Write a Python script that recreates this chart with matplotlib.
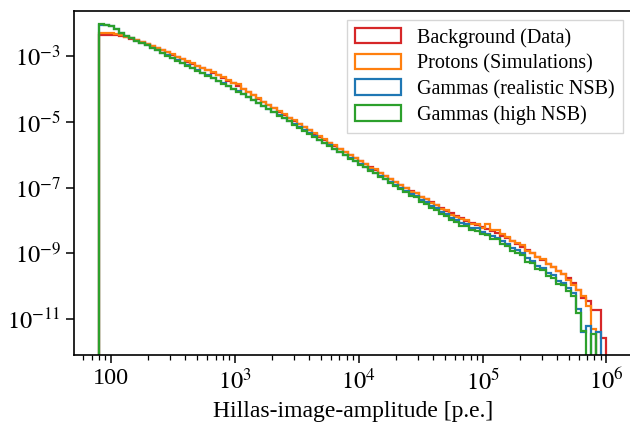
import numpy as np
import matplotlib
matplotlib.use("Agg")
import matplotlib.pyplot as plt
from matplotlib.patches import Patch

plt.rcParams['font.family'] = ['Liberation Serif', 'DejaVu Serif']
plt.rcParams['mathtext.fontset'] = 'stix'

# ---- data (log10 of normalised counts per bin; None = empty bin) ----
bin_edges = np.geomspace(80, 1e6, 101)

labels = ["Background (Data)", "Protons (Simulations)",
          "Gammas (realistic NSB)", "Gammas (high NSB)"]
colors = ["#d62728", "#ff7f0e", "#1f77b4", "#2ca02c"]

background_log10 = [
    -2.36, -2.36, -2.35, -2.36, -2.39, -2.43, -2.47, -2.52, -2.58, -2.64,
    -2.70, -2.76, -2.82, -2.89, -2.96, -3.03, -3.10, -3.17, -3.23, -3.30,
    -3.37, -3.44, -3.51, -3.59, -3.67, -3.75, -3.83, -3.91, -4.00, -4.10,
    -4.20, -4.30, -4.40, -4.50, -4.59, -4.69, -4.79, -4.88, -4.98, -5.07,
    -5.17, -5.26, -5.36, -5.45, -5.55, -5.64, -5.74, -5.83, -5.93, -6.02,
    -6.11, -6.20, -6.29, -6.38, -6.47, -6.57, -6.65, -6.75, -6.83, -6.93,
    -7.01, -7.10, -7.18, -7.28, -7.35, -7.44, -7.53, -7.61, -7.70, -7.78,
    -7.87, -7.94, -8.01, -8.08, -8.15, -8.21, -8.27, -8.33, -8.39, -8.46,
    -8.54, -8.63, -8.71, -8.80, -8.90, -9.00, -9.10, -9.20, -9.31, -9.42,
    -9.53, -9.64, -9.76, -9.90, -10.10, -10.36, -10.45, -10.72, -10.72, -11.57,
]

protons_log10 = [
    -2.31, -2.31, -2.31, -2.33, -2.37, -2.41, -2.46, -2.51, -2.57, -2.63,
    -2.69, -2.75, -2.81, -2.88, -2.95, -3.02, -3.09, -3.15, -3.22, -3.29,
    -3.35, -3.42, -3.50, -3.57, -3.65, -3.73, -3.81, -3.86, -3.99, -4.09,
    -4.19, -4.29, -4.39, -4.49, -4.58, -4.68, -4.77, -4.87, -4.96, -5.06,
    -5.15, -5.25, -5.34, -5.44, -5.53, -5.63, -5.72, -5.82, -5.91, -6.01,
    -6.09, -6.19, -6.27, -6.39, -6.45, -6.57, -6.64, -6.74, -6.82, -6.93,
    -7.00, -7.12, -7.16, -7.30, -7.34, -7.46, -7.52, -7.64, -7.68, -7.83,
    -7.88, -7.97, -8.00, -8.10, -8.12, -8.22, -8.10, -8.28, -8.30, -8.42,
    -8.50, -8.62, -8.68, -8.74, -8.92, -8.98, -9.12, -9.18, -9.32, -9.40,
    -9.55, -9.62, -9.80, -9.95, -10.10, -10.30, -10.60, -11.30, None, None,
]

gammas_realistic_log10 = [
    -2.05, -2.06, -2.10, -2.19, -2.30, -2.38, -2.45, -2.53, -2.60, -2.68,
    -2.75, -2.83, -2.90, -2.98, -3.06, -3.13, -3.21, -3.28, -3.36, -3.44,
    -3.51, -3.59, -3.67, -3.75, -3.83, -3.91, -3.99, -4.07, -4.15, -4.24,
    -4.33, -4.42, -4.51, -4.61, -4.70, -4.79, -4.89, -4.98, -5.07, -5.17,
    -5.26, -5.35, -5.44, -5.54, -5.63, -5.72, -5.82, -5.91, -6.00, -6.10,
    -6.18, -6.28, -6.37, -6.46, -6.55, -6.65, -6.73, -6.84, -6.91, -7.02,
    -7.10, -7.20, -7.27, -7.39, -7.45, -7.57, -7.63, -7.75, -7.80, -7.94,
    -7.99, -8.08, -8.12, -8.22, -8.24, -8.36, -8.40, -8.47, -8.52, -8.63,
    -8.72, -8.84, -8.90, -8.99, -9.15, -9.22, -9.38, -9.45, -9.60, -9.66,
    -9.84, -9.90, -10.05, -10.20, -10.70, -11.40, -11.20, None, -11.40, None,
]

gammas_high_log10 = [
    -2.04, -2.05, -2.09, -2.18, -2.30, -2.38, -2.45, -2.53, -2.61, -2.68,
    -2.76, -2.83, -2.91, -2.99, -3.06, -3.14, -3.21, -3.29, -3.37, -3.45,
    -3.52, -3.60, -3.68, -3.76, -3.84, -3.92, -4.00, -4.08, -4.16, -4.25,
    -4.34, -4.43, -4.53, -4.62, -4.71, -4.81, -4.90, -4.99, -5.09, -5.18,
    -5.27, -5.37, -5.46, -5.55, -5.64, -5.74, -5.83, -5.93, -6.01, -6.12,
    -6.20, -6.31, -6.38, -6.49, -6.57, -6.68, -6.75, -6.87, -6.94, -7.05,
    -7.12, -7.25, -7.30, -7.44, -7.49, -7.62, -7.68, -7.81, -7.86, -8.00,
    -8.05, -8.16, -8.18, -8.29, -8.31, -8.42, -8.44, -8.55, -8.57, -8.72,
    -8.78, -8.94, -8.99, -9.05, -9.25, -9.30, -9.48, -9.52, -9.70, -9.74,
    -9.92, -9.97, -10.15, -10.30, -10.80, -11.35, None, -11.45, None, None,
]

series = [background_log10, protons_log10, gammas_realistic_log10, gammas_high_log10]

x_tick_values = [1e2, 1e3, 1e4, 1e5, 1e6]
x_tick_labels = ["100", r"$10^3$", r"$10^4$", r"$10^5$", r"$10^6$"]
y_tick_values = [1e-3, 1e-5, 1e-7, 1e-9, 1e-11]
y_tick_labels = [r"$10^{-3}$", r"$10^{-5}$", r"$10^{-7}$", r"$10^{-9}$", r"$10^{-11}$"]

# ---- figure ----
fig = plt.figure(figsize=(6.3, 4.3), dpi=100)
ax = fig.add_axes([73.8 / 630, 75 / 430, (632 - 73.8) / 630, (355 - 10.7) / 430])
ax.set_xscale("log")
ax.set_yscale("log")

handles = []
for vals, lab, col in zip(series, labels, colors):
    dens = np.array([10.0 ** v if v is not None else 0.0 for v in vals])
    ax.stairs(dens, bin_edges, baseline=0, fill=False, color=col, lw=1.6)
    handles.append(Patch(facecolor="none", edgecolor=col, lw=1.6, label=lab))

ax.set_xlim(50.2, 10 ** 6.206)
ax.set_ylim(10 ** -12.09, 10 ** -1.623)

ax.set_xticks(x_tick_values)
ax.set_xticklabels(x_tick_labels)
ax.xaxis.set_minor_locator(matplotlib.ticker.LogLocator(base=10, subs=np.arange(2, 10), numticks=20))
ax.xaxis.set_minor_formatter(matplotlib.ticker.NullFormatter())
ax.set_yticks(y_tick_values)
ax.set_yticklabels(y_tick_labels)
ax.yaxis.set_minor_locator(matplotlib.ticker.NullLocator())

ax.tick_params(axis="both", which="major", labelsize=17.5, length=6, width=1.1)
ax.tick_params(axis="x", which="minor", length=3.5, width=0.9)
for s in ax.spines.values():
    s.set_linewidth(1.2)

ax.set_xlabel("Hillas-image-amplitude [p.e.]", fontsize=17, labelpad=5)

ax.legend(handles=handles, loc="upper right", fontsize=14.5, fancybox=False,
          edgecolor="0.8", handlelength=2.3, handleheight=0.8,
          borderaxespad=0.45, labelspacing=0.3)

fig.savefig("out.png", dpi=100)
